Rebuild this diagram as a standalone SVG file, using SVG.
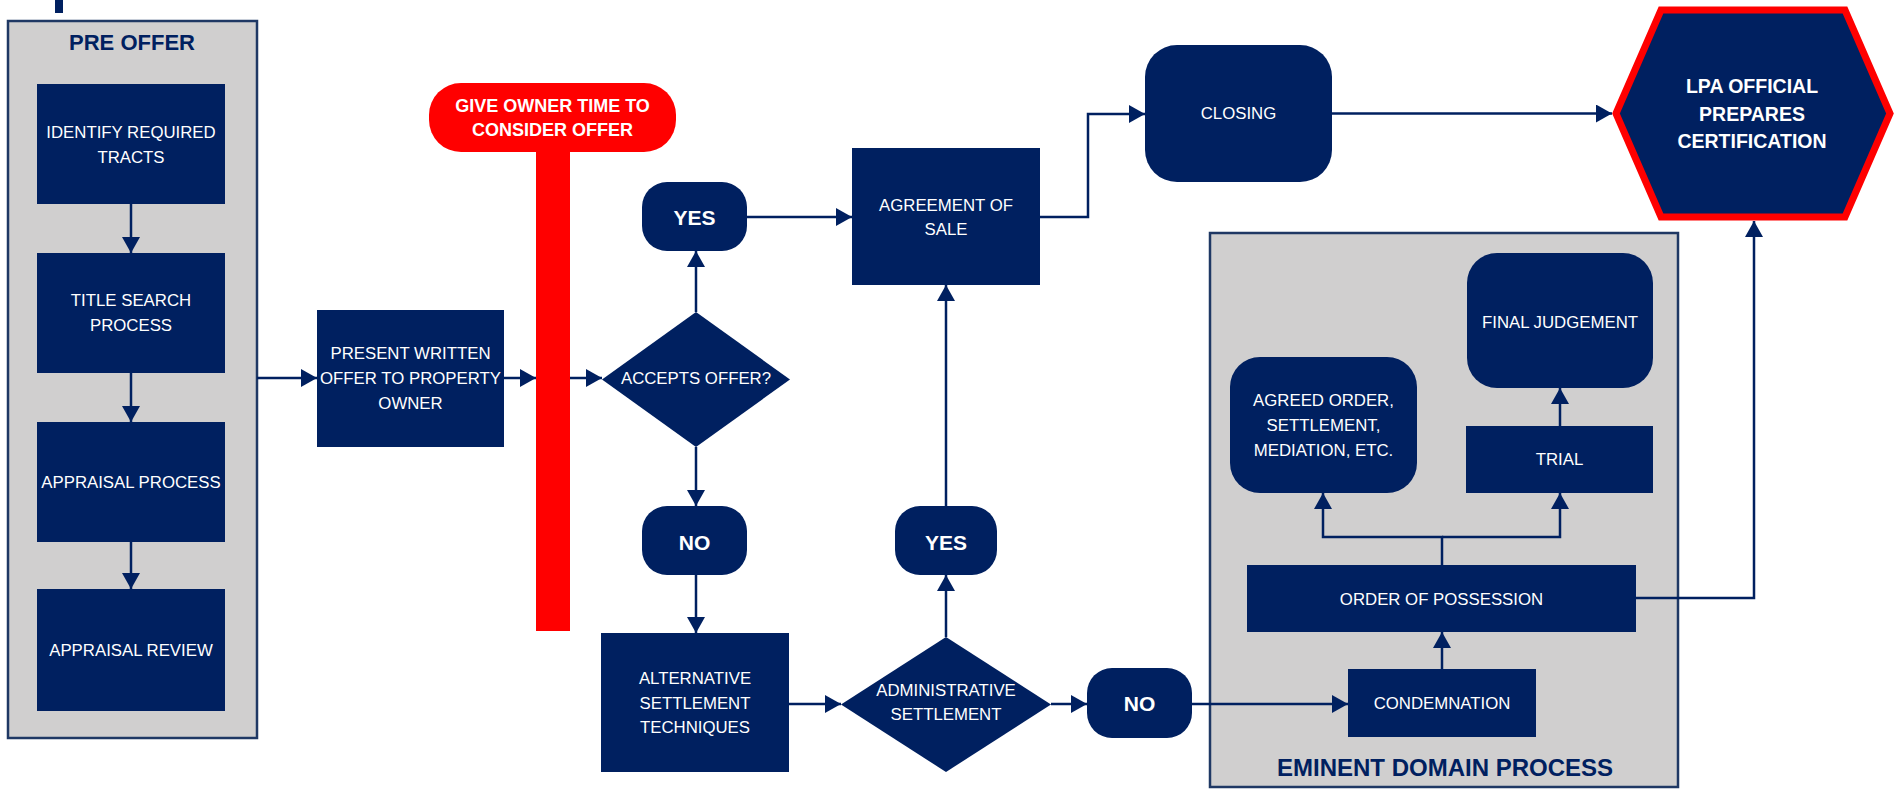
<svg xmlns="http://www.w3.org/2000/svg" width="1902" height="789" viewBox="0 0 1902 789">
<defs>
<style>
.box{fill:#002060;}
.grp{fill:#d0cfcf;stroke:#1f3864;stroke-width:2.5;}
.t{font-family:"Liberation Sans",Arial,sans-serif;fill:#fff;font-size:16.8px;text-anchor:middle;}
.b{font-weight:bold;}
.yn{font-size:21px;}
.pl{font-size:18px;}
.lp{font-size:19.5px;}
.h{font-family:"Liberation Sans",Arial,sans-serif;fill:#002060;font-weight:bold;text-anchor:middle;}
.c{fill:none;stroke:#002060;stroke-width:2.5;marker-end:url(#ah);}
</style>
<marker id="ah" viewBox="0 0 16 18" refX="16" refY="9" markerWidth="16" markerHeight="18" markerUnits="userSpaceOnUse" orient="auto">
<path d="M0,0 L16,9 L0,18 Z" fill="#002060"/>
</marker>
</defs>
<rect width="1902" height="789" fill="#fff"/>
<rect x="55" y="0" width="8" height="13" fill="#002060"/>

<g id="pre-offer">
<rect class="grp" x="8" y="21" width="249" height="717"/>
<text class="h" x="132" y="50" font-size="22">PRE OFFER</text>
</g>
<g id="identify">
<rect class="box" x="37" y="84" width="188" height="120"/>
<text class="t" x="131" y="138">IDENTIFY REQUIRED</text>
<text class="t" x="131" y="163">TRACTS</text>
</g>
<g id="title-search">
<rect class="box" x="37" y="253" width="188" height="120"/>
<text class="t" x="131" y="306">TITLE SEARCH</text>
<text class="t" x="131" y="331">PROCESS</text>
</g>
<g id="appraisal">
<rect class="box" x="37" y="422" width="188" height="120"/>
<text class="t" x="131" y="488">APPRAISAL PROCESS</text>
</g>
<g id="review">
<rect class="box" x="37" y="589" width="188" height="122"/>
<text class="t" x="131" y="656">APPRAISAL REVIEW</text>
</g>
<g id="present">
<rect class="box" x="317" y="310" width="187" height="137"/>
<text class="t" x="410.5" y="359">PRESENT WRITTEN</text>
<text class="t" x="410.5" y="384">OFFER TO PROPERTY</text>
<text class="t" x="410.5" y="409">OWNER</text>
</g>
<g id="give-time">
<rect x="536" y="140" width="34" height="491" fill="#ff0000"/>
<rect x="429" y="83" width="247" height="69" rx="32" fill="#ff0000"/>
<text class="t b pl" x="552.5" y="112">GIVE OWNER TIME TO</text>
<text class="t b pl" x="552.5" y="136">CONSIDER OFFER</text>
</g>
<g id="accepts">
<polygon class="box" points="602,379.5 696,312 790,379.5 696,447"/>
<text class="t" x="696" y="384">ACCEPTS OFFER?</text>
</g>
<g id="yes1">
<rect class="box" x="642" y="182" width="105" height="69" rx="25"/>
<text class="t b yn" x="694.5" y="224.5">YES</text>
</g>
<g id="agreement">
<rect class="box" x="852" y="148" width="188" height="137"/>
<text class="t" x="946" y="211">AGREEMENT OF</text>
<text class="t" x="946" y="235">SALE</text>
</g>
<g id="closing">
<rect class="box" x="1145" y="45" width="187" height="137" rx="32"/>
<text class="t" x="1238.5" y="119">CLOSING</text>
</g>
<g id="lpa">
<polygon points="1616,113.5 1661,10 1845,10 1890,113.5 1845,217 1661,217" fill="#002060" stroke="#ff0000" stroke-width="7"/>
<text class="t b lp" x="1752" y="93">LPA OFFICIAL</text>
<text class="t b lp" x="1752" y="121">PREPARES</text>
<text class="t b lp" x="1752" y="148">CERTIFICATION</text>
</g>
<g id="no1">
<rect class="box" x="642" y="506" width="105" height="69" rx="25"/>
<text class="t b yn" x="694.5" y="549.5">NO</text>
</g>
<g id="alternative">
<rect class="box" x="601" y="633" width="188" height="139"/>
<text class="t" x="695" y="684">ALTERNATIVE</text>
<text class="t" x="695" y="709">SETTLEMENT</text>
<text class="t" x="695" y="733">TECHNIQUES</text>
</g>
<g id="admin">
<polygon class="box" points="841,704.5 946,637 1051,704.5 946,772"/>
<text class="t" x="946" y="696">ADMINISTRATIVE</text>
<text class="t" x="946" y="720">SETTLEMENT</text>
</g>
<g id="yes2">
<rect class="box" x="895" y="506" width="102" height="69" rx="25"/>
<text class="t b yn" x="946" y="549.5">YES</text>
</g>
<g id="no2">
<rect class="box" x="1087" y="668" width="105" height="70" rx="25"/>
<text class="t b yn" x="1139.5" y="710.5">NO</text>
</g>
<g id="eminent-domain">
<rect class="grp" x="1210" y="233" width="468" height="554"/>
<text class="h" x="1445" y="776" font-size="24">EMINENT DOMAIN PROCESS</text>
</g>
<g id="final-judgement">
<rect class="box" x="1467" y="253" width="186" height="135" rx="30"/>
<text class="t" x="1560" y="328">FINAL JUDGEMENT</text>
</g>
<g id="agreed-order">
<rect class="box" x="1230" y="357" width="187" height="136" rx="30"/>
<text class="t" x="1323.5" y="406">AGREED ORDER,</text>
<text class="t" x="1323.5" y="431">SETTLEMENT,</text>
<text class="t" x="1323.5" y="456">MEDIATION, ETC.</text>
</g>
<g id="trial">
<rect class="box" x="1466" y="426" width="187" height="67"/>
<text class="t" x="1559.5" y="465">TRIAL</text>
</g>
<g id="order-possession">
<rect class="box" x="1247" y="565" width="389" height="67"/>
<text class="t" x="1441.5" y="605">ORDER OF POSSESSION</text>
</g>
<g id="condemnation">
<rect class="box" x="1348" y="669" width="188" height="68"/>
<text class="t" x="1442" y="709">CONDEMNATION</text>
</g>

<g id="connectors">
<path class="c" d="M131,204 V253"/>
<path class="c" d="M131,373 V422"/>
<path class="c" d="M131,542 V589"/>
<path class="c" d="M257,378 H317"/>
<path class="c" d="M504,378 H536"/>
<path class="c" d="M570,378 H602"/>
<path class="c" d="M696,312 V251"/>
<path class="c" d="M747,217 H852"/>
<path class="c" d="M1040,217 H1088 V114 H1145"/>
<path class="c" d="M1332,113.5 H1612"/>
<path class="c" d="M696,447 V506"/>
<path class="c" d="M696,575 V633"/>
<path class="c" d="M789,704 H841"/>
<path class="c" d="M946,637 V575"/>
<path class="c" d="M946,506 V285"/>
<path class="c" d="M1051,704 H1087"/>
<path class="c" d="M1192,704 H1348"/>
<path class="c" d="M1442,669 V632"/>
<path class="c" d="M1442,565 V537 H1323 V493"/>
<path class="c" d="M1442,537 H1560 V493"/>
<path class="c" d="M1560,426 V388"/>
<path class="c" d="M1636,598 H1754 V221"/>
</g>
</svg>
